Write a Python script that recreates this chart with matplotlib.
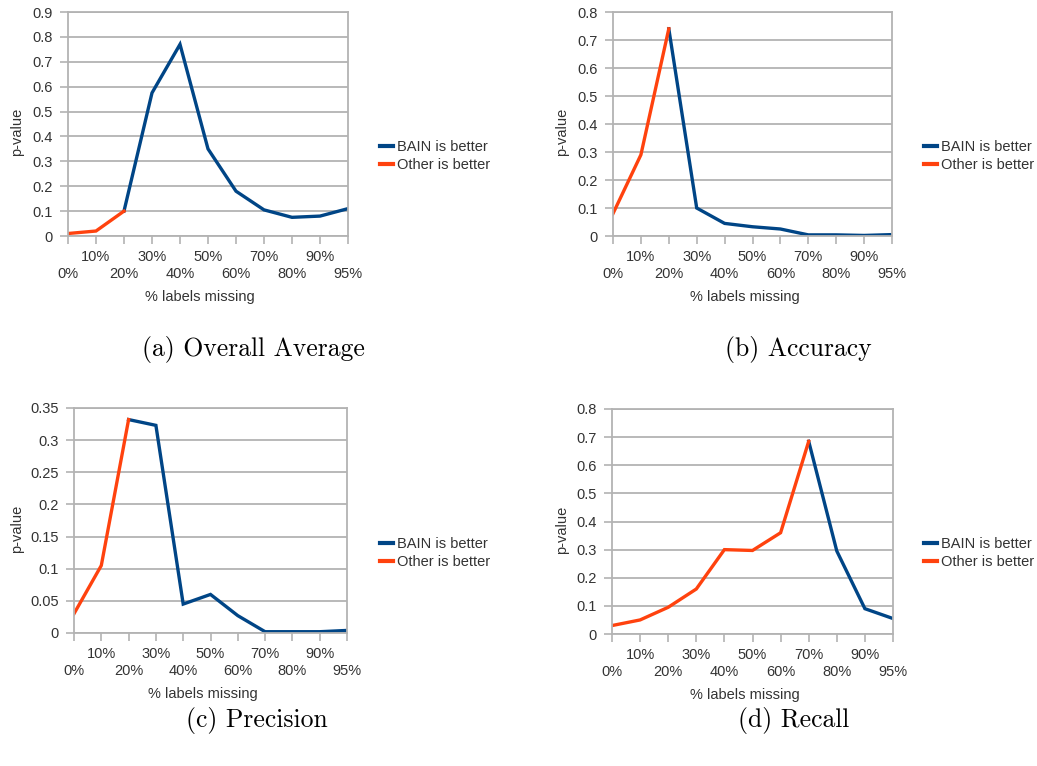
import matplotlib.pyplot as plt
from matplotlib.ticker import FuncFormatter
from matplotlib.lines import Line2D
import numpy as np

categories = ['0%', '10%', '20%', '30%', '40%', '50%', '60%', '70%', '80%', '90%', '95%']

overall = [0.01, 0.02, 0.10, 0.575, 0.77, 0.35, 0.18, 0.105, 0.075, 0.08, 0.11]
accuracy = [0.08, 0.29, 0.74, 0.10, 0.045, 0.033, 0.025, 0.004, 0.004, 0.002, 0.005]
precision = [0.03, 0.105, 0.332, 0.323, 0.045, 0.06, 0.027, 0.002, 0.002, 0.002, 0.004]
recall = [0.03, 0.05, 0.095, 0.16, 0.30, 0.297, 0.36, 0.685, 0.295, 0.09, 0.055]

# index where "Other is better" hands over to "BAIN is better"
switch = {'overall': 2, 'accuracy': 2, 'precision': 2, 'recall': 7}

captions = ['(a) Overall Average', '(b) Accuracy', '(c) Precision', '(d) Recall']

BLUE = '#004586'
ORANGE = '#ff420e'
GRID = '#b3b3b3'
TEXT = '#333333'
FS = 10.5

W, H = 1037, 766
fig = plt.figure(figsize=(W / 100, H / 100), dpi=100)
plt.rcParams['font.family'] = ['Liberation Sans', 'DejaVu Sans']


def px_axes(x0, y0, x1, y1):
    return fig.add_axes([x0 / W, 1 - y1 / H, (x1 - x0) / W, (y1 - y0) / H])


def panel(box, values, k, ymax, ystep, legend_xy, ylab_x, caption, cap_xy):
    ax = px_axes(*box)
    x = np.arange(len(categories))
    v = np.array(values, dtype=float)
    other = v.copy()
    other[k + 1:] = np.nan
    bain = v.copy()
    bain[:k] = np.nan
    ax.plot(x, bain, color=BLUE, lw=2.4, solid_joinstyle='miter')
    ax.plot(x, other, color=ORANGE, lw=2.4, solid_joinstyle='miter')
    ax.set_xlim(0, len(categories) - 1)
    ax.set_ylim(0, ymax)
    ax.set_yticks(np.arange(0, ymax + ystep / 2, ystep))
    ax.yaxis.set_major_formatter(FuncFormatter(lambda t, p: '%g' % round(t, 3)))
    ax.set_xticks(x)
    ax.set_xticklabels([c if i % 2 else '\n' + c for i, c in enumerate(categories)],
                       linespacing=1.25)
    ax.grid(axis='y', color=GRID, lw=1.3)
    for s in ax.spines.values():
        s.set_color(GRID)
        s.set_linewidth(1.3)
    ax.tick_params(colors=GRID, labelcolor=TEXT, labelsize=FS, length=6, width=1.2)
    ax.tick_params(axis='x', pad=4)
    ax.tick_params(axis='y', pad=5)
    ax.set_axisbelow(True)
    fig.text(ylab_x / W, 1 - ((box[1] + box[3]) / 2 + 8) / H, 'p-value', rotation=90,
             ha='center', va='center', color=TEXT, fontsize=FS)
    fig.text(((box[0] + box[2]) / 2 - 8) / W, 1 - (box[3] + 61) / H, '% labels missing',
             ha='center', va='center', color=TEXT, fontsize=FS)
    handles = [Line2D([0], [0], color=BLUE, lw=3), Line2D([0], [0], color=ORANGE, lw=3)]
    fig.legend(handles, ['BAIN is better', 'Other is better'], loc='center left',
               bbox_to_anchor=(legend_xy[0] / W, 1 - legend_xy[1] / H), frameon=False,
               fontsize=FS, handlelength=0.9, handletextpad=0.25, labelspacing=0.3,
               borderpad=0, borderaxespad=0, labelcolor=TEXT)
    fig.text(cap_xy[0] / W, 1 - cap_xy[1] / H, caption, ha='center', va='center',
             fontsize=18.5, family=['cmr10', 'DejaVu Serif'])


panel((68, 12, 348, 236), overall, switch['overall'], 0.9, 0.1, (380, 156), 17,
      captions[0], (253, 350))
panel((613, 12, 892, 236), accuracy, switch['accuracy'], 0.8, 0.1, (924, 156), 562,
      captions[1], (798, 350))
panel((74, 408, 347, 633), precision, switch['precision'], 0.35, 0.05, (380, 553), 17,
      captions[2], (257, 720))
panel((612, 409, 893, 634), recall, switch['recall'], 0.8, 0.1, (924, 553), 562,
      captions[3], (794, 720))

fig.savefig('out.png', dpi=100)
